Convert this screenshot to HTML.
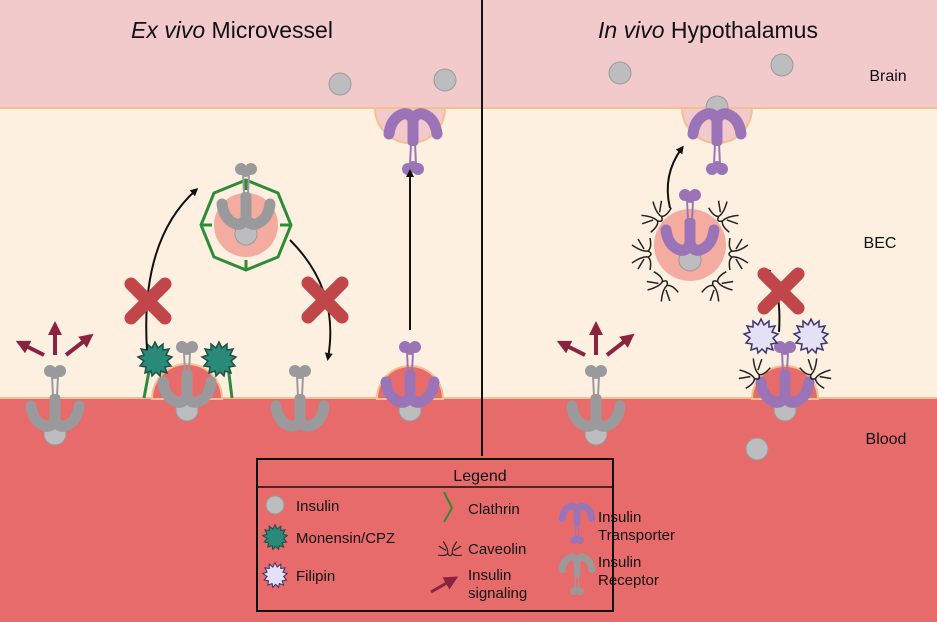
<!DOCTYPE html>
<html><head><meta charset="utf-8"><style>
html,body{margin:0;padding:0;background:#fff}
svg{display:block}
text{font-family:"Liberation Sans",sans-serif;fill:#111}
</style></head><body>
<svg width="937" height="622" viewBox="0 0 937 622" xmlns="http://www.w3.org/2000/svg">
<defs>
<marker id="ah" markerWidth="8" markerHeight="8" refX="5" refY="4" orient="auto" markerUnits="userSpaceOnUse">
<path d="M0,0 L8,4 L0,8 Z" fill="#111"/></marker>
<marker id="ar" markerWidth="14" markerHeight="14" refX="7" refY="7" orient="auto" markerUnits="userSpaceOnUse">
<path d="M0,0 L14,7 L0,14 Z" fill="#8b2340"/></marker>
<g id="recG">
<path d="M-24,-22 Q-22,-6 -10,-2 Q-4,0 0,-8 Q4,0 10,-2 Q22,-6 24,-22" fill="none" stroke="#9a9a9c" stroke-width="11" stroke-linecap="round" stroke-linejoin="round"/>
<rect x="-5.5" y="-34" width="11" height="28" rx="4" fill="#9a9a9c"/>
<path d="M-2,-32 L-3,-52 M2,-32 L3,-52" stroke="#9a9a9c" stroke-width="2" fill="none"/>
<circle cx="-5" cy="-57" r="6" fill="#9a9a9c"/><circle cx="5" cy="-57" r="6" fill="#9a9a9c"/><circle cx="0" cy="-53" r="4" fill="#9a9a9c"/>
</g>
<g id="recP">
<path d="M-24,-22 Q-22,-6 -10,-2 Q-4,0 0,-8 Q4,0 10,-2 Q22,-6 24,-22" fill="none" stroke="#9b74b8" stroke-width="11" stroke-linecap="round" stroke-linejoin="round"/>
<rect x="-5.5" y="-34" width="11" height="28" rx="4" fill="#9b74b8"/>
<path d="M-2,-32 L-3,-52 M2,-32 L3,-52" stroke="#9b74b8" stroke-width="2" fill="none"/>
<circle cx="-5" cy="-57" r="6" fill="#9b74b8"/><circle cx="5" cy="-57" r="6" fill="#9b74b8"/><circle cx="0" cy="-53" r="4" fill="#9b74b8"/>
</g>
<g id="ins"><circle r="11" fill="#bdbdbf" stroke="#9a9a9a" stroke-width="1"/></g>
<g id="xx"><path d="M-17,-17 L17,17 M17,-17 L-17,17" stroke="#c1464a" stroke-width="13" stroke-linecap="round"/></g>
<g id="star"><polygon points="0,-17 3,-11 8,-15 8,-9 14,-10 11,-4 17,-2 12,2 16,7 10,8 12,14 6,12 5,17 1,13 -3,17 -4,12 -10,14 -9,8 -15,7 -11,2 -17,-2 -11,-4 -14,-10 -8,-9 -8,-15 -3,-11" /></g>
<g id="cav" fill="none" stroke="#222" stroke-width="1.5"><path d="M-16,0 Q-6,2 -3,-2 Q-2,-8 -9,-18 M16,0 Q6,2 3,-2 Q2,-8 9,-18 M-3,-2 Q0,4 3,-2 M-5,-6 L-15,-12 M5,-6 L15,-12"/></g>
</defs>
<rect x="0" y="0" width="937" height="108" fill="#f2cacc"/>
<rect x="0" y="108" width="937" height="290" fill="#fdf0e1"/>
<rect x="0" y="398" width="937" height="224" fill="#e86b6b"/>
<line x1="0" y1="108" x2="937" y2="108" stroke="#f5c08f" stroke-width="2"/>
<line x1="0" y1="398" x2="937" y2="398" stroke="#f5c08f" stroke-width="2"/>
<line x1="482" y1="0" x2="482" y2="456" stroke="#111" stroke-width="2"/>
<text x="232" y="38" font-size="23" text-anchor="middle"><tspan font-style="italic">Ex vivo</tspan> Microvessel</text>
<text x="708" y="38" font-size="23" text-anchor="middle"><tspan font-style="italic">In vivo</tspan> Hypothalamus</text>
<text x="888" y="81" font-size="16" text-anchor="middle">Brain</text>
<text x="880" y="248" font-size="16" text-anchor="middle">BEC</text>
<text x="886" y="444" font-size="16" text-anchor="middle">Blood</text>
<use href="#ins" x="340" y="84"/><use href="#ins" x="445" y="80"/><use href="#ins" x="620" y="73"/><use href="#ins" x="782" y="65"/>
<path d="M375,108 A35,35 0 0 0 445,108 Z" fill="#f2cacc" stroke="#f5c08f" stroke-width="2"/>
<path d="M682,108 A35,35 0 0 0 752,108 Z" fill="#f2cacc" stroke="#f5c08f" stroke-width="2"/>
<use href="#ins" x="717" y="107"/>
<use href="#recP" transform="translate(413,112) scale(1,-1)"/>
<use href="#recP" transform="translate(717,112) scale(1,-1)"/>
<path d="M152,399 A35,35 0 0 1 222,399 Z" fill="#e86b6b" stroke="#f5c08f" stroke-width="2"/>
<path d="M377,399 A33,33 0 0 1 443,399 Z" fill="#e86b6b" stroke="#f5c08f" stroke-width="2"/>
<path d="M752,399 A33,33 0 0 1 818,399 Z" fill="#e86b6b" stroke="#f5c08f" stroke-width="2"/>
<use href="#ins" x="55" y="434"/><use href="#recG" x="55" y="428"/>
<use href="#ins" x="187" y="410"/><use href="#recG" x="187" y="404"/>
<use href="#recG" x="300" y="428"/>
<use href="#ins" x="410" y="410"/><use href="#recP" x="410" y="404"/>
<path d="M144,398 L150,366 L165,372 M232,398 L228,366 L215,372" stroke="#2e8b3a" stroke-width="3" fill="none"/>
<use href="#star" x="155" y="359" fill="#2a8a78" stroke="#1f4f45" stroke-width="1.5"/>
<use href="#star" x="219" y="359" fill="#2a8a78" stroke="#1f4f45" stroke-width="1.5"/>
<circle cx="246" cy="225" r="32" fill="#f4aba0"/>
<polygon points="246,180 278,193 291,225 278,257 246,270 214,257 201,225 214,193" fill="none" stroke="#2e8b3a" stroke-width="3"/>
<path d="M246,180 L246,190 M291,225 L280,225 M246,270 L246,260 M201,225 L212,225" stroke="#2e8b3a" stroke-width="3"/>
<use href="#ins" x="246" y="234"/><use href="#recG" x="246" y="226"/>
<path d="M147,350 Q140,240 196,190" fill="none" stroke="#111" stroke-width="2" marker-end="url(#ah)"/>
<path d="M290,240 Q340,290 328,358" fill="none" stroke="#111" stroke-width="2" marker-end="url(#ah)"/>
<line x1="410" y1="330" x2="410" y2="172" stroke="#111" stroke-width="2" marker-end="url(#ah)"/>
<use href="#xx" x="148" y="301"/><use href="#xx" x="325" y="300"/>
<g stroke="#8b2340" stroke-width="4" fill="none">
<line x1="55" y1="355" x2="55" y2="328" marker-end="url(#ar)"/>
<line x1="44" y1="355" x2="22" y2="344" marker-end="url(#ar)"/>
<line x1="66" y1="355" x2="88" y2="338" marker-end="url(#ar)"/>
<line x1="596" y1="355" x2="596" y2="328" marker-end="url(#ar)"/>
<line x1="585" y1="355" x2="563" y2="344" marker-end="url(#ar)"/>
<line x1="607" y1="355" x2="629" y2="338" marker-end="url(#ar)"/>
</g>
<use href="#ins" x="596" y="434"/><use href="#recG" x="596" y="428"/>
<use href="#ins" x="757" y="449"/>
<circle cx="690" cy="245" r="36" fill="#f4aba0"/>
<use href="#ins" x="690" y="260"/><use href="#recP" x="690" y="252"/>
<use href="#cav" transform="translate(661,220) rotate(-50)"/>
<use href="#cav" transform="translate(719,220) rotate(50)"/>
<use href="#cav" transform="translate(650,254) rotate(-90)"/>
<use href="#cav" transform="translate(730,254) rotate(90)"/>
<use href="#cav" transform="translate(666,282) rotate(-140)"/>
<use href="#cav" transform="translate(714,282) rotate(140)"/>
<use href="#ins" x="785" y="410"/><use href="#recP" x="785" y="404"/>
<use href="#cav" transform="translate(758,378) rotate(-40)"/>
<use href="#cav" transform="translate(812,378) rotate(40)"/>
<use href="#star" x="761" y="336" fill="#e4e0f5" stroke="#3b3570" stroke-width="1.5"/>
<use href="#star" x="811" y="336" fill="#e4e0f5" stroke="#3b3570" stroke-width="1.5"/>
<path d="M670,208 Q662,175 682,148" fill="none" stroke="#111" stroke-width="2" marker-end="url(#ah)"/>
<path d="M779,332 Q782,285 765,270" fill="none" stroke="#111" stroke-width="2" marker-end="url(#ah)"/>
<use href="#xx" x="781" y="291"/>
<rect x="257" y="459" width="356" height="152" fill="#e86b6b" stroke="#111" stroke-width="2"/>
<line x1="257" y1="487" x2="613" y2="487" stroke="#111" stroke-width="1.5"/>
<text x="480" y="481" font-size="16" text-anchor="middle">Legend</text>
<circle cx="275" cy="505" r="9" fill="#bdbdbf" stroke="#999"/>
<text x="296" y="511" font-size="15">Insulin</text>
<use href="#star" transform="translate(275,537) scale(0.72)" fill="#2a8a78" stroke="#1f4f45" stroke-width="1.5"/>
<text x="296" y="543" font-size="15">Monensin/CPZ</text>
<use href="#star" transform="translate(275,575) scale(0.72)" fill="#e4e0f5" stroke="#3b3570" stroke-width="1.5"/>
<text x="296" y="581" font-size="15">Filipin</text>
<path d="M444,492 L452,508 L444,522" fill="none" stroke="#2e8b3a" stroke-width="2"/>
<text x="468" y="514" font-size="15">Clathrin</text>
<use href="#cav" transform="translate(450,555) scale(0.75)"/>
<text x="468" y="554" font-size="15">Caveolin</text>
<line x1="431" y1="592" x2="452" y2="580" stroke="#8b2340" stroke-width="3" marker-end="url(#ar)"/>
<text x="468" y="580" font-size="15">Insulin</text>
<text x="468" y="598" font-size="15">signaling</text>
<use href="#recP" transform="translate(577,505) scale(0.62,-0.62)"/>
<text x="598" y="522" font-size="15">Insulin</text>
<text x="598" y="540" font-size="15">Transporter</text>
<use href="#recG" transform="translate(577,556) scale(0.62,-0.62)"/>
<text x="598" y="567" font-size="15">Insulin</text>
<text x="598" y="585" font-size="15">Receptor</text>
</svg>
</body></html>
